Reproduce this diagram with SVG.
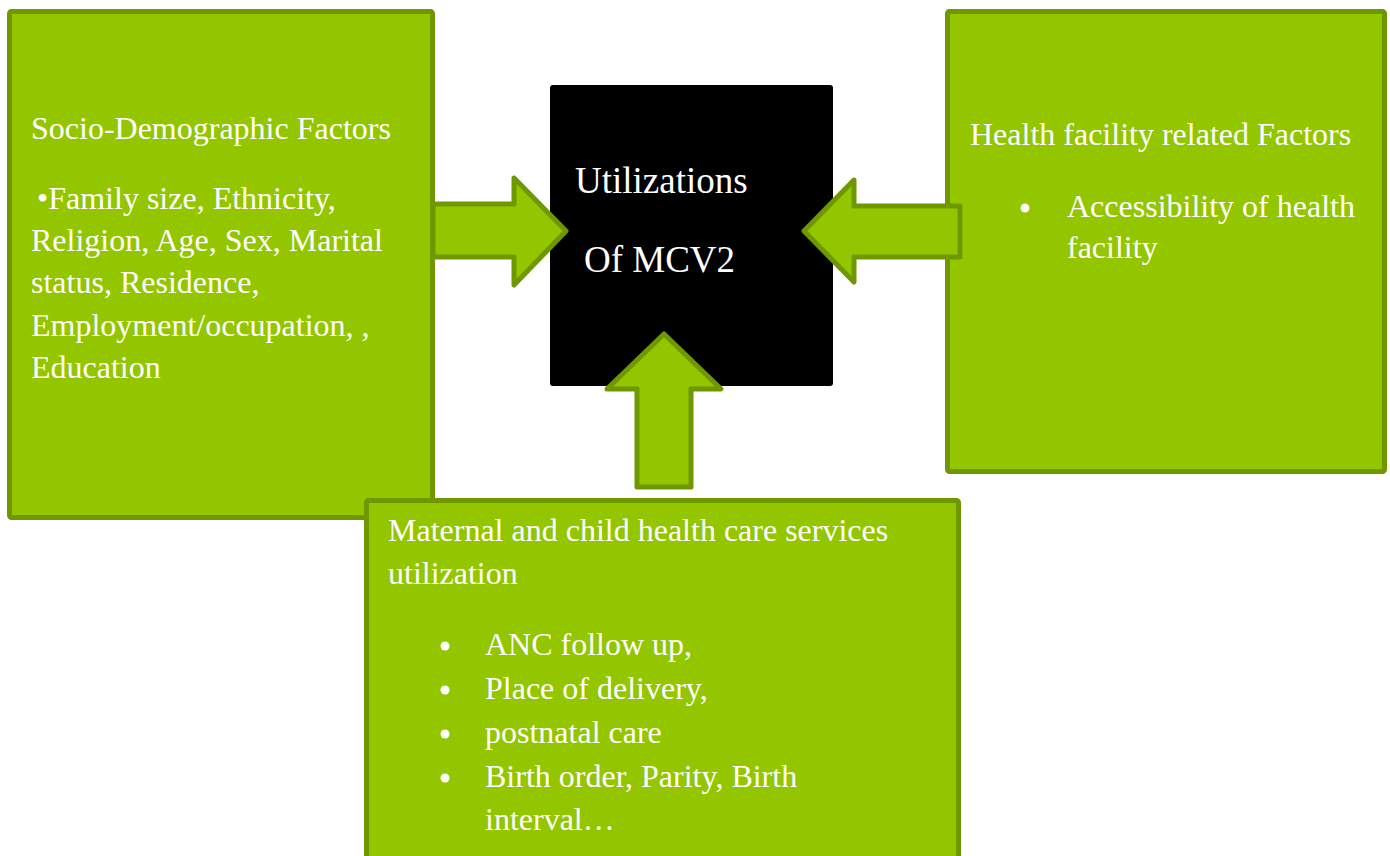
<svg xmlns="http://www.w3.org/2000/svg" width="1390" height="856" viewBox="0 0 1390 856">
  <style>
    .box { fill: #94c600; stroke: #6f9700; stroke-width: 5; }
    .arrow { fill: #94c600; stroke: #6f9700; stroke-width: 5; stroke-linejoin: round; }
    .core { fill: #000000; }
    text { font-family: "Liberation Serif", "Times New Roman", serif; fill: #ffffff; font-size: 32px; }
    .big { font-size: 37px; }
  </style>
  <rect width="1390" height="856" fill="#ffffff"/>

  <g id="node-socio">
    <rect class="box" x="9.5" y="11.5" width="423" height="506" rx="2"/>
    <text x="31" y="139">Socio-Demographic Factors</text>
    <text x="37" y="209">•Family size, Ethnicity,</text>
    <text x="31" y="251">Religion, Age, Sex, Marital</text>
    <text x="31" y="293">status, Residence,</text>
    <text x="31" y="336">Employment/occupation, ,</text>
    <text x="31" y="378">Education</text>
  </g>

  <g id="node-health-facility">
    <rect class="box" x="947.5" y="11.5" width="437" height="460" rx="2"/>
    <text x="970" y="145">Health facility related Factors</text>
    <circle cx="1025" cy="208" r="4.5" fill="#ffffff"/>
    <text x="1067" y="217">Accessibility of health</text>
    <text x="1067" y="258">facility</text>
  </g>

  <g id="node-mcv2">
    <rect class="core" x="550" y="85" width="283" height="301" rx="3"/>
    <text class="big" x="575" y="193">Utilizations</text>
    <text class="big" x="584" y="272">Of MCV2</text>
  </g>

  <g id="connectors">
    <polygon class="arrow" points="433,204 514,204 514,178 566,231 514,285 514,257 433,257"/>
    <polygon class="arrow" points="960,206 854,206 854,180 804,231 854,282 854,257 960,257"/>
    <polygon class="arrow" points="637,487 637,389 607,389 664,334 721,389 691,389 691,487"/>
  </g>

  <g id="node-maternal">
    <rect class="box" x="366.5" y="500.5" width="592" height="370" rx="2"/>
    <text x="388" y="541">Maternal and child health care services</text>
    <text x="388" y="584">utilization</text>
    <g fill="#ffffff">
      <circle cx="445" cy="646" r="4.5"/>
      <circle cx="445" cy="690" r="4.5"/>
      <circle cx="445" cy="734" r="4.5"/>
      <circle cx="445" cy="778" r="4.5"/>
    </g>
    <text x="485" y="655">ANC follow up,</text>
    <text x="485" y="699">Place of delivery,</text>
    <text x="485" y="743">postnatal care</text>
    <text x="485" y="787">Birth order, Parity, Birth</text>
    <text x="485" y="830">interval…</text>
  </g>
</svg>
